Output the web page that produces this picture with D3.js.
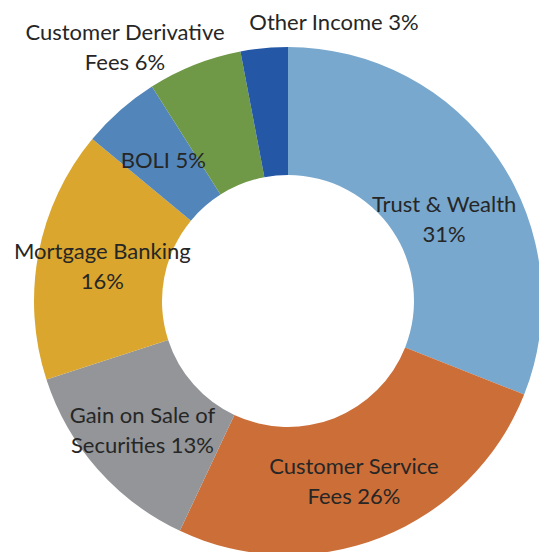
<!DOCTYPE html>
<html>
<head>
<meta charset="utf-8">
<script src="https://cdn.jsdelivr.net/npm/d3@7/dist/d3.min.js"></script>
<style>
  html, body { margin: 0; padding: 0; background: #fff; }
  svg { display: block; }
</style>
</head>
<body>
<svg id="chart" width="539" height="552"></svg>
<script>
// ---- data ----
const categories = ["Trust & Wealth", "Customer Service Fees", "Gain on Sale of Securities",
                    "Mortgage Banking", "BOLI", "Customer Derivative Fees", "Other Income"];
const values = [31, 26, 13, 16, 5, 6, 3];
const labelLines = [
  ["Trust & Wealth", "31%"],
  ["Customer Service", "Fees 26%"],
  ["Gain on Sale of", "Securities 13%"],
  ["Mortgage Banking", "16%"],
  ["BOLI 5%"],
  ["Customer Derivative", "Fees 6%"],
  ["Other Income 3%"]
];
const colors = ["#78A8CE", "#CC6E38", "#939598", "#DAA62E", "#5286BA", "#6F9847", "#2458A6"];

// ---- layout ----
const W = 539, H = 552;
const cx = 288, cy = 301;
const rOuter = 254, rInner = 126;
const fontSize = 22, lineH = 30;
const labelAdjust = [
  {dx: -1, dy: 25},
  {dx: -4, dy: 3},
  {dx: -3, dy: 3},
  {dx: 1, dy: 1},
  {dx: 1, dy: 2},
  {x: 125, y: 47},
  {x: 334, y: 22}
];

const svg = d3.select("#chart");
const g = svg.append("g").attr("transform", `translate(${cx},${cy})`);

const pie = d3.pie().sort(null).value(d => d)(values);
const arc = d3.arc().innerRadius(rInner).outerRadius(rOuter);
const labelArc = d3.arc().innerRadius((rInner + rOuter) / 2).outerRadius((rInner + rOuter) / 2);

g.selectAll("path.slice")
  .data(pie)
  .join("path")
  .attr("class", "slice")
  .attr("d", arc)
  .attr("fill", (d, i) => colors[i])
  .attr("stroke", "none");

const labels = svg.append("g")
  .attr("font-family", "Lato, 'Open Sans', sans-serif")
  .attr("font-size", fontSize)
  .attr("fill", "#262626")
  .attr("text-anchor", "middle");

pie.forEach((d, i) => {
  const adj = labelAdjust[i];
  let x, y;
  if (adj.x !== undefined) { x = adj.x; y = adj.y; }
  else {
    const c = labelArc.centroid(d);
    x = cx + c[0] + adj.dx; y = cy + c[1] + adj.dy;
  }
  const lines = labelLines[i];
  const t = labels.append("text").attr("x", x);
  const first = y - (lines.length - 1) * lineH / 2 + 8;
  lines.forEach((ln, k) => {
    t.append("tspan").attr("x", x).attr("y", first + k * lineH).text(ln);
  });
});
</script>
</body>
</html>
